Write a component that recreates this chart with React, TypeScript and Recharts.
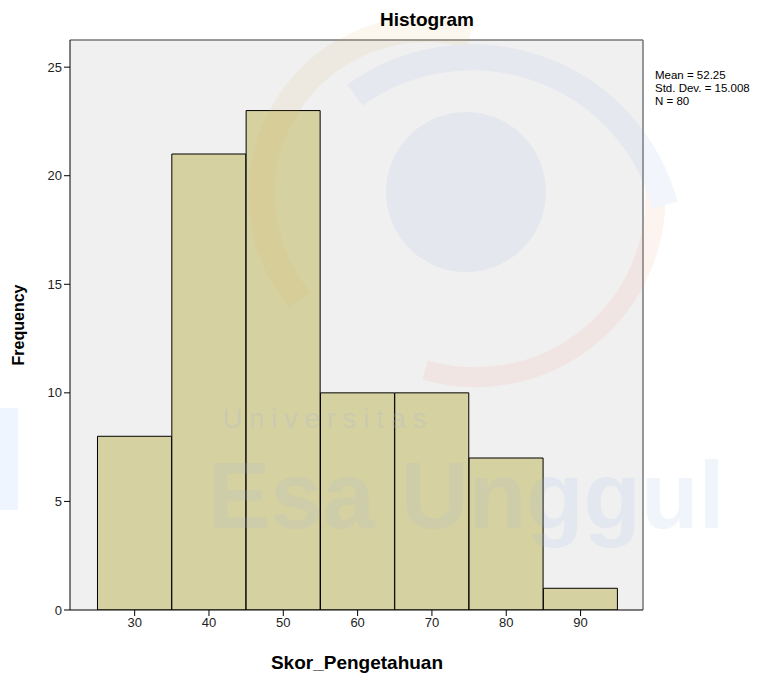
import {
  Bar,
  CartesianGrid,
  ComposedChart,
  ReferenceLine,
  XAxis,
  YAxis,
} from 'recharts'

const binCenters = [30, 40, 50, 60, 70, 80, 90]
const frequencies = [8, 21, 23, 10, 10, 7, 1]
const xTicks = [30, 40, 50, 60, 70, 80, 90]
const yTicks = [0, 5, 10, 15, 20, 25]
const statLines = ['Mean = 52.25', 'Std. Dev. = 15.008', 'N = 80']

const histData = binCenters.map((mid, i) => ({ mid, count: frequencies[i] }))

const X_MIN = 21.3
const X_MAX = 98.4
const Y_MAX = 26.25
const font = '"Liberation Sans Narrow", "Liberation Sans", Arial, sans-serif'
const sans = '"Liberation Sans", Arial, sans-serif'

function App() {
  return (
    <div style={{ position: 'absolute', left: 0, top: 0, width: 783, height: 679, background: '#fff' }}>
      <ComposedChart
        width={783}
        height={679}
        data={histData}
        margin={{ top: 40, right: 140, bottom: 39, left: 30 }}
        barCategoryGap={0}
        barGap={0}
      >
        <CartesianGrid fill="#f0f0f0" horizontal={false} vertical={false} />
        <XAxis
          type="number"
          dataKey="mid"
          domain={[X_MIN, X_MAX]}
          ticks={xTicks}
          allowDataOverflow
          height={30}
          axisLine={{ stroke: '#000' }}
          tickLine={{ stroke: '#000' }}
          tickSize={6}
          tick={{ fill: '#222', fontSize: 13, fontFamily: font }}
        />
        <YAxis
          type="number"
          domain={[0, Y_MAX]}
          ticks={yTicks}
          allowDataOverflow
          width={40}
          axisLine={{ stroke: '#000' }}
          tickLine={{ stroke: '#000' }}
          tickSize={6}
          tick={{ fill: '#222', fontSize: 13, fontFamily: font }}
        />
        <ReferenceLine y={Y_MAX} stroke="#777" strokeWidth={1.5} />
        <ReferenceLine x={X_MAX} stroke="#777" strokeWidth={1.5} />
        <Bar
          dataKey="count"
          fill="#d6d1a0"
          stroke="#000"
          strokeWidth={1}
          isAnimationActive={false}
        />
      </ComposedChart>

      <svg
        width={783}
        height={679}
        style={{ position: 'absolute', left: 0, top: 0, pointerEvents: 'none' }}
      >
        {/* faint watermark */}
        <g opacity={0.1}>
          <circle cx={466} cy={192} r={80} fill="#7fa3e0" />
          <path d="M 300 300 A 165 165 0 0 1 470 35" stroke="#e0b060" strokeWidth={26} fill="none" />
          <path d="M 655 185 A 180 180 0 0 1 425 370" stroke="#f09070" strokeWidth={20} fill="none" />
          <path d="M 355 95 A 200 200 0 0 1 665 205" stroke="#8aa8e0" strokeWidth={26} fill="none" />
        </g>
        <text x={328} y={428} textAnchor="middle" fontFamily={sans} fontSize={27} letterSpacing={7} fill="#a8b8d8" opacity={0.25}>
          Universitas
        </text>
        <text x={466} y={528} textAnchor="middle" fontFamily={sans} fontSize={94} fontWeight="bold" fill="#9ab8ea" opacity={0.14}>
          Esa Unggul
        </text>
        <rect x={0} y={408} width={18} height={102} fill="#d8e6fc" opacity={0.4} />

        <text x={427} y={26} textAnchor="middle" fontFamily={font} fontSize={19} fontWeight="bold" fill="#000">
          Histogram
        </text>
        {statLines.map((line, i) => (
          <text key={line} x={655} y={79 + i * 13} fontFamily={sans} fontSize={11.5} fill="#000">
            {line}
          </text>
        ))}
        <text
          x={24}
          y={325}
          transform="rotate(-90 24 325)"
          textAnchor="middle"
          fontFamily={sans}
          fontSize={16}
          fontWeight="bold"
          fill="#000"
        >
          Frequency
        </text>
        <text x={357} y={669} textAnchor="middle" fontFamily={font} fontSize={19} fontWeight="bold" fill="#000">
          Skor_Pengetahuan
        </text>
      </svg>
    </div>
  )
}

export default App
